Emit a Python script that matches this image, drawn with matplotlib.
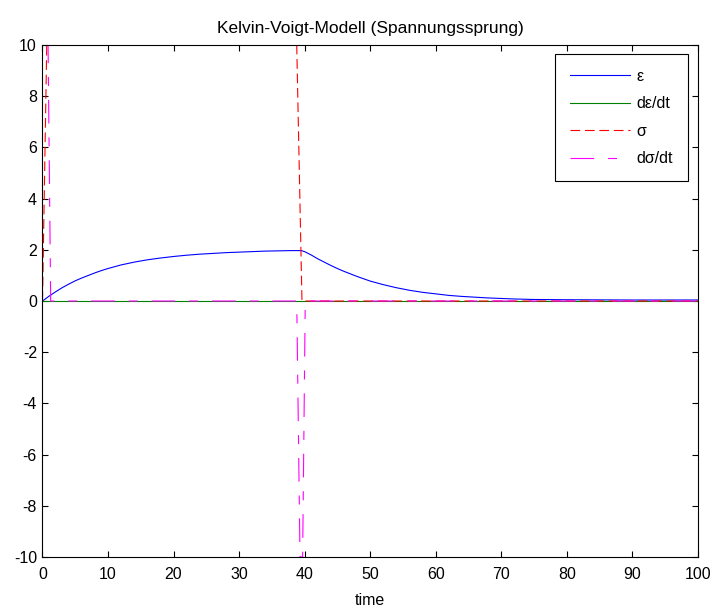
import matplotlib
matplotlib.use('Agg')
import matplotlib.pyplot as plt

plt.rcParams['font.family'] = ['Liberation Sans', 'DejaVu Sans']
plt.rcParams['lines.scale_dashes'] = False
plt.rcParams['axes.unicode_minus'] = False

# strain response (creep + recovery)
t_eps = [0, 1, 2, 3, 4, 5, 6, 7, 8, 9, 10, 12, 14, 16, 18, 20, 22, 24, 26, 28,
         30, 32, 34, 36, 38, 39.5, 40, 41, 42, 43, 44, 45, 46, 48, 50, 52, 54,
         56, 58, 60, 62, 64, 66, 68, 70, 72, 75, 80, 90, 100]
eps = [0, 0.19, 0.36, 0.52, 0.66, 0.79, 0.90, 1.00, 1.10, 1.19, 1.27, 1.41,
       1.52, 1.61, 1.68, 1.74, 1.79, 1.83, 1.86, 1.89, 1.91, 1.93, 1.95, 1.96,
       1.97, 1.97, 1.93, 1.80, 1.65, 1.52, 1.39, 1.27, 1.16, 0.96, 0.78, 0.64,
       0.52, 0.42, 0.34, 0.28, 0.22, 0.18, 0.15, 0.12, 0.10, 0.08, 0.06, 0.05,
       0.04, 0.04]

t_deps = [0, 100]
deps = [0, 0]

# applied stress step and its derivative
t_sig = [0, 0.65, 38.8, 39.6, 100]
sig = [0, 10, 10, 0, 0]

t_dsig = [0, 0.85, 1.25, 38.8, 39.3, 39.7, 40.1, 100]
dsig = [10, 10, 0, 0, -10, -10, 0, 0]

fig = plt.figure(figsize=(7.13, 6.08), dpi=100)
ax = fig.add_axes([0.0596, 0.0839, 0.919, 0.842])

lw = 0.8
ax.plot(t_eps, eps, color='#0000ff', lw=lw, label='ε')
ax.plot(t_deps, deps, color='#008000', lw=lw, label='dε/dt')
l_sig, = ax.plot(t_sig, sig, color='#ff0000', lw=lw, label='σ')
l_sig.set_dashes((7, 3.4))
l_dsig, = ax.plot(t_dsig, dsig, color='#ff00ff', lw=lw, label='dσ/dt')
l_dsig.set_dashes((17, 10, 6.5, 10))

ax.set_xlim(0, 100)
ax.set_ylim(-10, 10)
ax.set_xticks(range(0, 101, 10))
ax.set_yticks(range(-10, 11, 2))
ax.tick_params(direction='in', length=4, width=0.8, top=True, right=True,
               labelsize=11.5, colors='black')
ax.tick_params(axis='x', pad=7)
ax.tick_params(axis='y', pad=4)
for s in ax.spines.values():
    s.set_linewidth(0.8)

ax.set_xlabel('time', fontsize=11.5, labelpad=8)
ax.set_title('Kelvin-Voigt-Modell (Spannungssprung)', fontsize=12.5, pad=9)

leg = ax.legend(loc='upper right', bbox_to_anchor=(0.985, 0.982),
                borderaxespad=0, fontsize=11.5, handlelength=3.8,
                handletextpad=0.4, labelspacing=0.78, borderpad=0.92,
                fancybox=False, framealpha=1, edgecolor='black')
leg.get_frame().set_linewidth(0.8)

fig.savefig('out.png', dpi=100)
